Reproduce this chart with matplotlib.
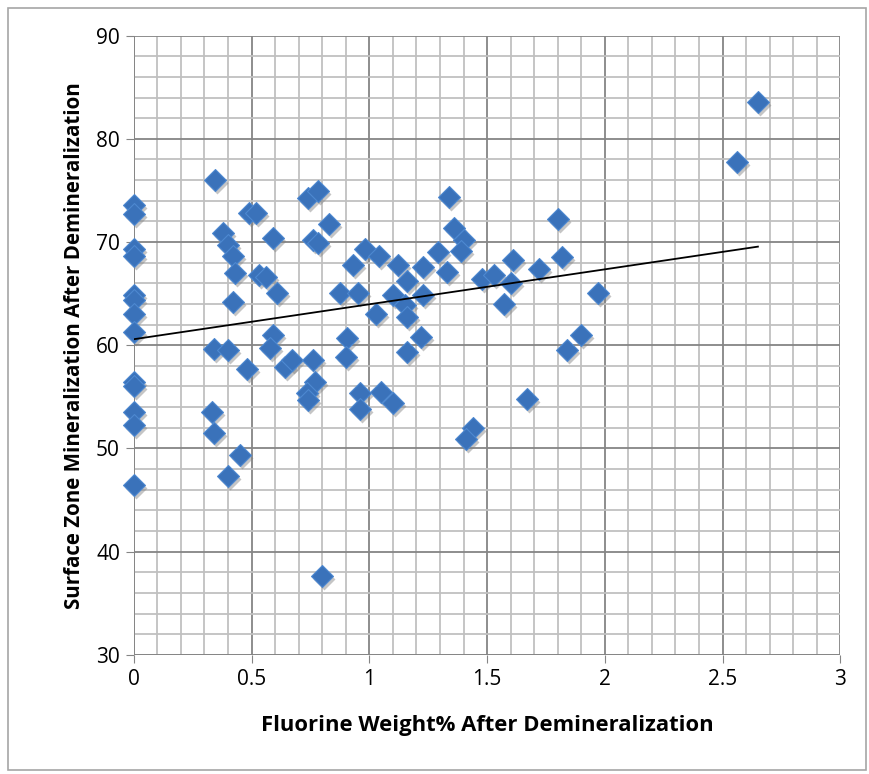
import numpy as np
import matplotlib
matplotlib.use("Agg")
import matplotlib.pyplot as plt
from matplotlib.patches import Rectangle
from matplotlib.transforms import offset_copy

# Fluorine weight% after demineralization
fluor = [0, 0, 0, 0, 0, 0, 0, 0, 0, 0, 0, 0, 0,
         0.344, 0.49, 0.52, 0.74, 0.78, 0.38, 0.40, 0.42, 0.43, 0.59,
         0.76, 0.78, 0.83, 0.53, 0.56, 0.61, 0.42, 0.875, 0.93,
         0.34, 0.40, 0.48, 0.59, 0.58, 0.64, 0.67, 0.76, 0.77, 0.735, 0.74,
         0.905, 0.90, 0.33, 0.34, 0.45, 0.40, 0.80,
         0.98, 1.04, 1.12, 1.29, 1.23, 1.33, 1.36, 1.40, 1.39, 1.34,
         1.16, 1.23, 1.10, 0.95, 1.15, 1.16, 1.03, 1.22, 1.16,
         1.48, 1.53, 1.60, 1.61, 1.72, 1.57, 1.80, 1.82, 1.97, 1.90, 1.84,
         0.96, 0.96, 1.05, 1.10, 1.44, 1.41, 1.67, 2.56, 2.65]

# Surface zone mineralization after demineralization
mineral = [73.6, 72.7, 69.3, 68.6, 64.9, 64.4, 63.0, 61.3, 56.4, 56.0, 53.5, 52.3, 46.5,
           76.0, 72.8, 72.8, 74.3, 74.9, 70.9, 69.7, 68.6, 67.0, 70.4,
           70.2, 69.9, 71.7, 66.8, 66.6, 65.1, 64.2, 65.1, 67.8,
           59.6, 59.5, 57.7, 61.0, 59.7, 57.9, 58.6, 58.6, 56.4, 55.4, 54.7,
           60.7, 58.9, 53.5, 51.5, 49.4, 47.3, 37.6,
           69.3, 68.6, 67.8, 69.0, 67.6, 67.1, 71.4, 70.2, 69.1, 74.4,
           66.2, 64.9, 64.9, 65.1, 63.9, 62.7, 63.0, 60.8, 59.3,
           66.4, 66.8, 66.0, 68.3, 67.4, 64.0, 72.2, 68.5, 65.1, 61.0, 59.5,
           55.4, 53.8, 55.5, 54.4, 52.0, 50.9, 54.8, 77.8, 83.6]

x = np.array(fluor)
y = np.array(mineral)

fig = plt.figure(figsize=(8.69, 7.74), dpi=100)
fig.patches.append(Rectangle((0.009, 0.005), 0.988, 0.985, transform=fig.transFigure,
                             fill=False, edgecolor="#a6a6a6", linewidth=1.2))
ax = fig.add_axes([0.154, 0.154, 0.813, 0.8])

ax.set_xlim(0, 3)
ax.set_ylim(30, 90)
ax.set_xticks(np.arange(0, 3.01, 0.5))
ax.set_xticklabels(["0", "0.5", "1", "1.5", "2", "2.5", "3"])
ax.set_yticks(np.arange(30, 91, 10))
ax.set_xticks(np.arange(0, 3.01, 0.1), minor=True)
ax.set_yticks(np.arange(30, 91, 2), minor=True)
ax.grid(which="minor", color="#c0c0c0", linewidth=1.3)
ax.grid(which="major", color="#858585", linewidth=1.3)
ax.set_axisbelow(True)
for s in ax.spines.values():
    s.set_visible(False)
ax.axvline(0, color="#858585", linewidth=1.3, zorder=1)
ax.axhline(30, color="#858585", linewidth=1.3, zorder=1)
ax.tick_params(which="major", length=6, color="#858585", labelsize=15, pad=4)
ax.tick_params(which="minor", length=0)
for lab in ax.get_xticklabels() + ax.get_yticklabels():
    lab.set_fontfamily("Open Sans")

# shadow + markers
shadow = offset_copy(ax.transData, fig=fig, x=2, y=-3, units="dots")
ax.scatter(x, y, marker="D", s=125, color="#7f7f7f", alpha=0.45, linewidths=0,
           transform=shadow, zorder=3, clip_on=False)
ax.scatter(x, y, marker="D", s=125, color="#3a72ba", edgecolors="#4d88d0",
           linewidths=0.8, zorder=4, clip_on=False)

# linear trendline
k, b = np.polyfit(x, y, 1)
xt = np.array([0, x.max()])
ax.plot(xt, k * xt + b, color="black", linewidth=1.3, zorder=5)

ax.set_xlabel("Fluorine Weight% After Demineralization", fontsize=15.8, fontweight="bold",
              fontfamily="Open Sans", labelpad=18)
ax.set_ylabel("Surface Zone Mineralization After Demineralization", fontsize=14.8,
              fontweight="bold", fontfamily="Open Sans", labelpad=8)

fig.savefig("out.png", dpi=100)
